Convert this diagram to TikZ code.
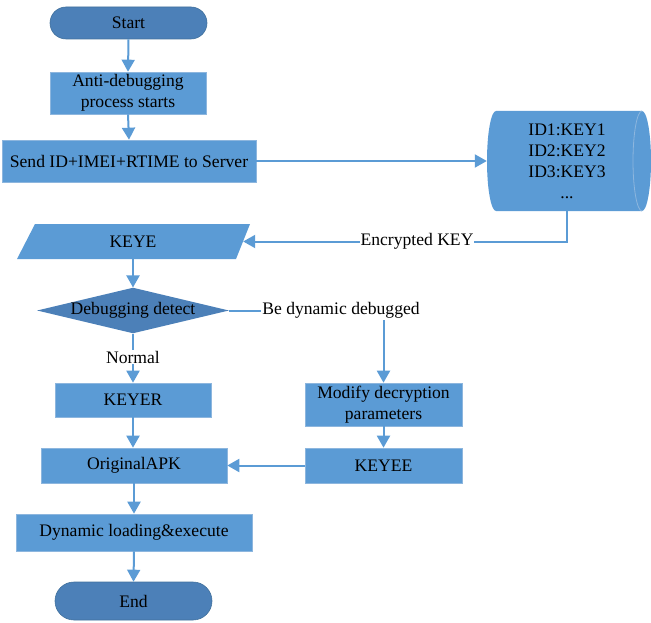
\documentclass[tikz,border=0pt]{standalone}
\usepackage{fontspec}
\setmainfont{Liberation Serif}
\newfontfamily\tnr{Liberation Serif}
\usetikzlibrary{arrows.meta,shapes.geometric}
\definecolor{boxc}{HTML}{5B9BD5}
\definecolor{darkc}{HTML}{4C80B8}
\definecolor{edgec}{HTML}{8DB6DE}
\definecolor{darkedge}{HTML}{41719C}
\definecolor{linec}{HTML}{5B9BD5}
\tikzset{
  every node/.style={font=\tnr\fontsize{17.6}{21}\selectfont, text=black},
  procbox/.style={rectangle, fill=boxc, draw=edgec, line width=0.6pt, inner sep=0pt, align=center},
  termbox/.style={rectangle, fill=darkc, draw=darkedge, line width=0.6pt, inner sep=0pt},
  lbl/.style={fill=white, inner sep=1pt},
  conn/.style={draw=linec, line width=2pt},
  arr/.style={conn, -{Triangle[width=13pt,length=12pt]}},
}
\begin{document}
\begin{tikzpicture}[x=1pt,y=-1pt]
\useasboundingbox (0,0) rectangle (651,623);
% manual shapes
\fill[boxc] (35,224) -- (250,224) -- (236,259) -- (17,259) -- cycle;
\fill[boxc] (496,111) -- (642,111) arc[start angle=-90,end angle=90,x radius=9,y radius=50] -- (496,211) arc[start angle=90,end angle=270,x radius=9,y radius=50] -- cycle;
\draw[edgec, line width=0.8pt] (642,111) arc[start angle=-90,end angle=-270,x radius=9,y radius=50];

\node[termbox, rounded corners=16pt, minimum width=157pt, minimum height=32pt] (start) at (128.5,23) {Start};
\node[procbox, minimum width=156pt, minimum height=42pt] (anti) at (128,93) {Anti-debugging\\process starts};
\node[procbox, minimum width=254pt, minimum height=42pt] (send) at (129,161) {Send ID+IMEI+RTIME to Server};
\node[rectangle, inner sep=0pt, minimum width=160pt, minimum height=100pt, align=center] (db) at (567,161) {ID1:KEY1\\ID2:KEY2\\ID3:KEY3\\...};
\node[rectangle, inner sep=0pt, minimum width=220pt, minimum height=35pt] (keye) at (133,241.5) {KEYE};
\node[diamond, fill=darkc, aspect=4.2, inner sep=0pt, minimum width=189pt, minimum height=45pt] (dia) at (133,310.5) {Debugging detect};
\node[procbox, minimum width=156pt, minimum height=34pt] (keyer) at (133,400) {KEYER};
\node[procbox, minimum width=157pt, minimum height=43pt] (mod) at (383.5,404.5) {Modify decryption\\parameters};
\node[procbox, minimum width=157pt, minimum height=35pt] (keyee) at (383.5,465.5) {KEYEE};
\node[procbox, minimum width=186pt, minimum height=35pt] (orig) at (134,465.5) {OriginalAPK};
\node[procbox, minimum width=236pt, minimum height=37pt] (dyn) at (134,532.5) {Dynamic loading\&execute};
\node[termbox, rounded corners=19pt, minimum width=157pt, minimum height=38pt] (end) at (133.5,601) {End};

% connectors
\draw[arr] (start.south) -- (anti.north);
\draw[arr] (anti.south) -- (send.north);
\draw[arr] (send.east) -- (db.west);
\draw[arr] (db.south) |- (keye.east);
\draw[arr] (keye.south) -- (dia.north);
\draw[arr] (dia.east) -| (mod.north);
\draw[arr] (dia.south) -- (keyer.north);
\draw[arr] (keyer.south) -- (keyer.south |- orig.north);
\draw[arr] (mod.south) -- (keyee.north);
\draw[arr] (keyee.west) -- (orig.east);
\draw[arr] (orig.south) -- (dyn.north);
\draw[arr] (dyn.south) -- (end.north);

% labels
\node[lbl] (enc) at (417,241.5) {Encrypted KEY};
\node[lbl] (bdd) at (341,310.5) {Be dynamic debugged};
\node[lbl] (norm) at (133,357) {Normal};
\end{tikzpicture}
\end{document}
